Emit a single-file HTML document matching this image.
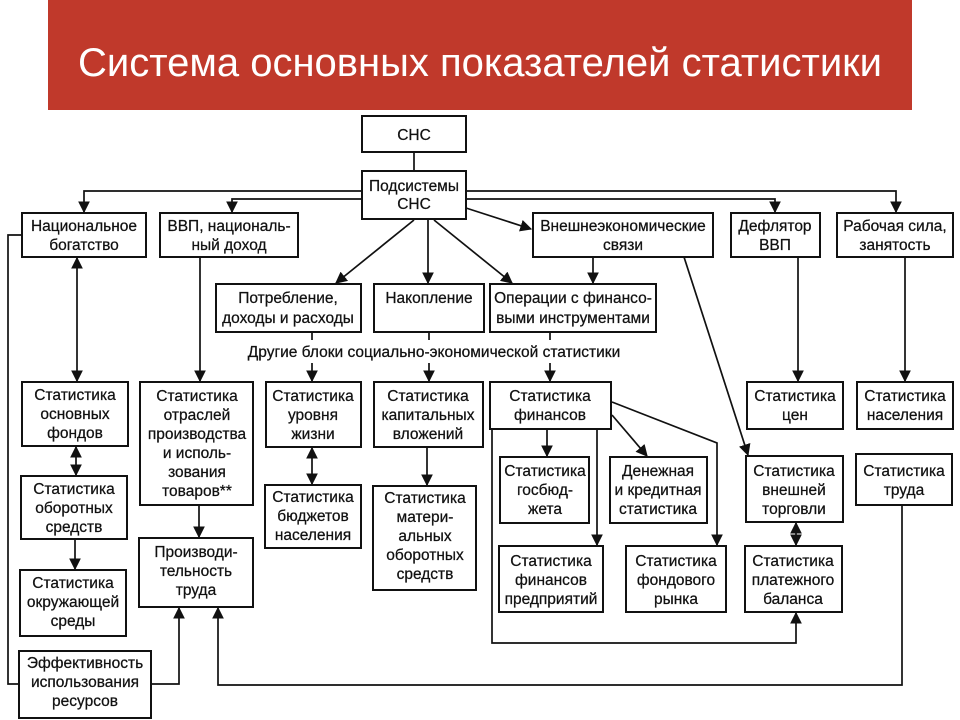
<!DOCTYPE html>
<html><head><meta charset="utf-8"><style>
html,body{margin:0;padding:0;background:#fff;}
svg{display:block;}
text{font-family:"Liberation Sans",sans-serif;font-size:15.5px;fill:#111;text-anchor:middle;stroke:#111;stroke-width:0.25;}
.t{font-size:40px;fill:#fff;stroke:none;}
rect.b{fill:#fff;stroke:#111;stroke-width:2;}
line,polyline{stroke:#111;stroke-width:1.7;fill:none;}
</style></head><body>
<svg width="960" height="720" viewBox="0 0 960 720">
<defs>
<marker id="a" viewBox="0 0 10 10" refX="9" refY="5" markerWidth="7" markerHeight="7" orient="auto-start-reverse"><path d="M0,0 L10,5 L0,10 z" fill="#111"/></marker>
</defs>
<rect x="48" y="0" width="864" height="110" fill="#c0392b"/>
<text class="t" x="480" y="76">Система основных показателей статистики</text>

<line x1="414" y1="152" x2="414" y2="171"/>
<polyline points="362,191 84,191 84,212" marker-end="url(#a)"/>
<polyline points="362,199 232,199 232,212" marker-end="url(#a)"/>
<polyline points="466,191 896,191 896,212" marker-end="url(#a)"/>
<polyline points="466,199 775,199 775,212" marker-end="url(#a)"/>
<line x1="414" y1="220" x2="336" y2="283" marker-end="url(#a)"/>
<line x1="428" y1="220" x2="428" y2="283" marker-end="url(#a)"/>
<line x1="434" y1="220" x2="512" y2="283" marker-end="url(#a)"/>
<line x1="466" y1="208" x2="531" y2="229" marker-end="url(#a)"/>
<line x1="593" y1="257" x2="593" y2="283" marker-end="url(#a)"/>
<line x1="77" y1="258" x2="77" y2="381" marker-start="url(#a)" marker-end="url(#a)"/>
<line x1="200" y1="257" x2="200" y2="381" marker-end="url(#a)"/>
<line x1="312" y1="332" x2="312" y2="340"/><line x1="312" y1="363" x2="312" y2="381" marker-end="url(#a)"/>
<line x1="429" y1="332" x2="429" y2="340"/><line x1="429" y1="363" x2="429" y2="381" marker-end="url(#a)"/>
<line x1="550" y1="332" x2="550" y2="340"/><line x1="550" y1="363" x2="550" y2="381" marker-end="url(#a)"/>
<line x1="684" y1="257" x2="748" y2="455" marker-end="url(#a)"/>
<line x1="798" y1="257" x2="798" y2="381" marker-end="url(#a)"/>
<line x1="905" y1="257" x2="905" y2="381" marker-end="url(#a)"/>
<line x1="76" y1="447" x2="76" y2="475" marker-start="url(#a)" marker-end="url(#a)"/>
<line x1="75" y1="539" x2="75" y2="569" marker-end="url(#a)"/>
<line x1="199" y1="505" x2="199" y2="537" marker-end="url(#a)"/>
<line x1="312" y1="448" x2="312" y2="484" marker-start="url(#a)" marker-end="url(#a)"/>
<line x1="427" y1="447" x2="427" y2="485" marker-end="url(#a)"/>
<line x1="547" y1="429" x2="547" y2="456" marker-end="url(#a)"/>
<line x1="597" y1="429" x2="597" y2="545" marker-end="url(#a)"/>
<line x1="612" y1="415" x2="647" y2="456" marker-end="url(#a)"/>
<polyline points="612,402 717,443 717,545" marker-end="url(#a)"/>
<line x1="796" y1="523" x2="796" y2="545" marker-start="url(#a)" marker-end="url(#a)"/>
<polyline points="492,429 492,643 796,643 796,613" marker-end="url(#a)"/>
<polyline points="902,505 902,685 218,685 218,608" marker-end="url(#a)"/>
<polyline points="151,684 179,684 179,608" marker-end="url(#a)"/>
<polyline points="22,235 8,235 8,684 19,684"/>

<rect class="b" x="362" y="116" width="104" height="36"/><text x="414" y="140">СНС</text>
<rect class="b" x="362" y="171" width="104" height="48"/><text x="414" y="191">Подсистемы</text><text x="414" y="209">СНС</text>
<rect class="b" x="22" y="213" width="124" height="44"/><text x="84" y="231">Национальное</text><text x="84" y="250">богатство</text>
<rect class="b" x="160" y="213" width="138" height="44"/><text x="229" y="231">ВВП, националь-</text><text x="229" y="250">ный доход</text>
<rect class="b" x="533" y="213" width="180" height="44"/><text x="623" y="231">Внешнеэкономические</text><text x="623" y="250">связи</text>
<rect class="b" x="731" y="213" width="89" height="44"/><text x="775" y="231">Дефлятор</text><text x="775" y="250">ВВП</text>
<rect class="b" x="837" y="213" width="116" height="44"/><text x="895" y="231">Рабочая сила,</text><text x="895" y="250">занятость</text>
<rect class="b" x="216" y="284" width="145" height="48"/><text x="288" y="303">Потребление,</text><text x="288" y="323">доходы и расходы</text>
<rect class="b" x="374" y="284" width="110" height="48"/><text x="429" y="303">Накопление</text>
<rect class="b" x="490" y="284" width="166" height="48"/><text x="573" y="303">Операции с финансо-</text><text x="573" y="323">выми инструментами</text>
<text x="434" y="357">Другие блоки социально-экономической статистики</text>

<rect class="b" x="22" y="382" width="106" height="64"/><text x="75" y="400">Статистика</text><text x="75" y="419">основных</text><text x="75" y="438">фондов</text>
<rect class="b" x="140" y="382" width="113" height="123"/><text x="197" y="401">Статистика</text><text x="197" y="420">отраслей</text><text x="197" y="439">производства</text><text x="197" y="458">и исполь-</text><text x="197" y="477">зования</text><text x="197" y="496">товаров**</text>
<rect class="b" x="266" y="382" width="95" height="65"/><text x="313" y="401">Статистика</text><text x="313" y="420">уровня</text><text x="313" y="439">жизни</text>
<rect class="b" x="374" y="382" width="109" height="65"/><text x="428" y="401">Статистика</text><text x="428" y="420">капитальных</text><text x="428" y="439">вложений</text>
<rect class="b" x="490" y="382" width="121" height="47"/><text x="550" y="401">Статистика</text><text x="550" y="420">финансов</text>
<rect class="b" x="747" y="382" width="96" height="47"/><text x="795" y="401">Статистика</text><text x="795" y="420">цен</text>
<rect class="b" x="857" y="382" width="96" height="47"/><text x="905" y="401">Статистика</text><text x="905" y="420">населения</text>

<rect class="b" x="21" y="476" width="106" height="63"/><text x="74" y="494">Статистика</text><text x="74" y="513">оборотных</text><text x="74" y="532">средств</text>
<rect class="b" x="265" y="485" width="96" height="63"/><text x="313" y="502">Статистика</text><text x="313" y="521">бюджетов</text><text x="313" y="540">населения</text>
<rect class="b" x="373" y="486" width="103" height="104"/><text x="425" y="503">Статистика</text><text x="425" y="522">матери-</text><text x="425" y="541">альных</text><text x="425" y="560">оборотных</text><text x="425" y="579">средств</text>
<rect class="b" x="500" y="457" width="89" height="66"/><text x="545" y="476">Статистика</text><text x="545" y="495">госбюд-</text><text x="545" y="514">жета</text>
<rect class="b" x="610" y="457" width="97" height="66"/><text x="658" y="476">Денежная</text><text x="658" y="495">и кредитная</text><text x="658" y="514">статистика</text>
<rect class="b" x="746" y="456" width="97" height="66"/><text x="794" y="476">Статистика</text><text x="794" y="495">внешней</text><text x="794" y="514">торговли</text>
<rect class="b" x="856" y="454" width="96" height="51"/><text x="904" y="476">Статистика</text><text x="904" y="495">труда</text>
<rect class="b" x="139" y="538" width="114" height="69"/><text x="196" y="557">Производи-</text><text x="196" y="576">тельность</text><text x="196" y="595">труда</text>
<rect class="b" x="20" y="570" width="106" height="66"/><text x="73" y="588">Статистика</text><text x="73" y="607">окружающей</text><text x="73" y="626">среды</text>
<rect class="b" x="499" y="546" width="104" height="66"/><text x="551" y="566">Статистика</text><text x="551" y="585">финансов</text><text x="551" y="604">предприятий</text>
<rect class="b" x="626" y="546" width="100" height="66"/><text x="676" y="566">Статистика</text><text x="676" y="585">фондового</text><text x="676" y="604">рынка</text>
<rect class="b" x="745" y="546" width="97" height="66"/><text x="793" y="566">Статистика</text><text x="793" y="585">платежного</text><text x="793" y="604">баланса</text>
<rect class="b" x="19" y="651" width="132" height="67"/><text x="85" y="668">Эффективность</text><text x="85" y="687">использования</text><text x="85" y="706">ресурсов</text>
</svg>
</body></html>
